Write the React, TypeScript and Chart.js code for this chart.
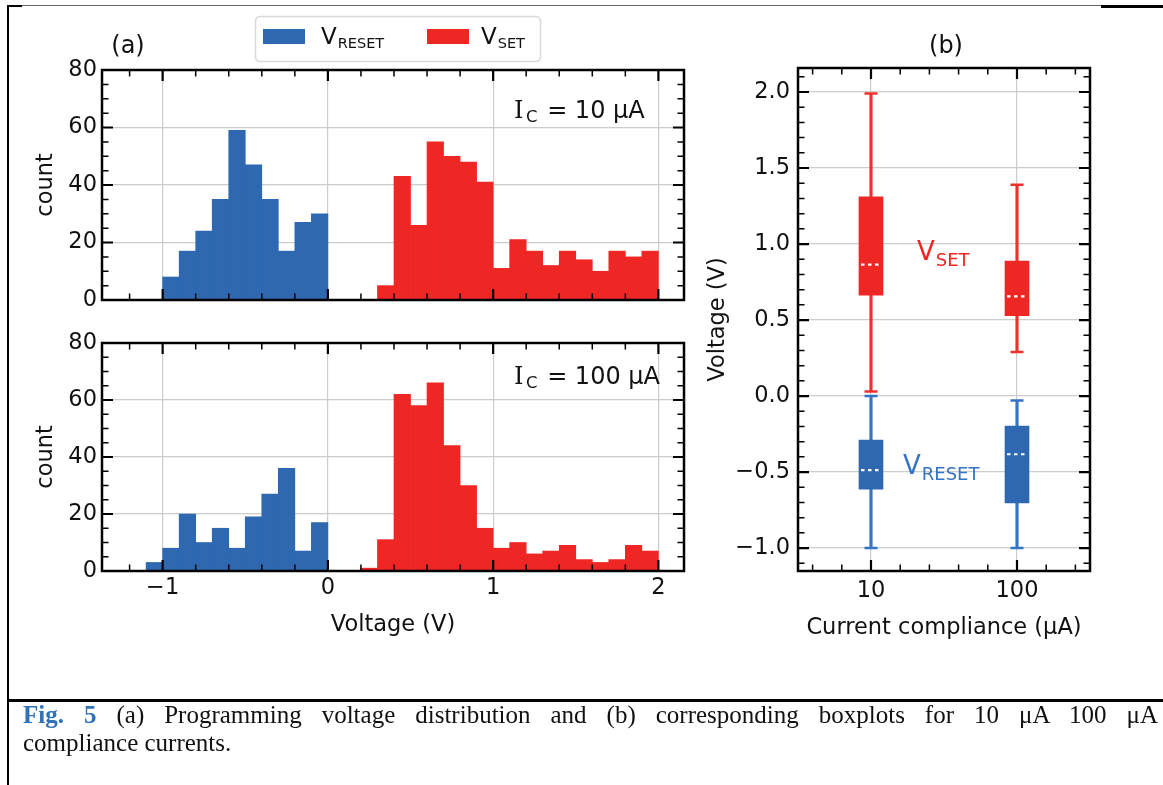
import React, { useEffect, useRef } from 'react';
import { Chart, registerables } from 'chart.js';

Chart.register(...registerables);

const W = 1163;
const H = 785;
const SANS = "'DejaVu Sans', 'Liberation Sans', sans-serif";
const SERIF = "'DejaVu Serif', 'Liberation Serif', serif";
const BLUE = '#2d68b1';
const RED = '#ee2624';
const BLUE_W = '#3574c2';
const RED_W = '#f0302c';
const GRID = '#cccccc';
const TXT = '#111111';
const FS = 22.5;

// ---------- panel (a): histograms, 0.1 V bins given by left edge ----------
const BIN_WIDTH = 0.1;
const reset10Bins = [-1.0, -0.9, -0.8, -0.7, -0.6, -0.5, -0.4, -0.3, -0.2, -0.1];
const reset10Counts = [8, 17, 24, 35, 59, 47, 35, 17, 27, 30];
const set10Bins = [0.3, 0.4, 0.5, 0.6, 0.7, 0.8, 0.9, 1.0, 1.1, 1.2, 1.3, 1.4, 1.5, 1.6, 1.7, 1.8, 1.9];
const set10Counts = [5, 43, 26, 55, 50, 48, 41, 11, 21, 17, 12, 17, 14, 10, 17, 15, 17];
const reset100Bins = [-1.1, -1.0, -0.9, -0.8, -0.7, -0.6, -0.5, -0.4, -0.3, -0.2, -0.1];
const reset100Counts = [3, 8, 20, 10, 15, 8, 19, 27, 36, 7, 17];
const set100Bins = [0.2, 0.3, 0.4, 0.5, 0.6, 0.7, 0.8, 0.9, 1.0, 1.1, 1.2, 1.3, 1.4, 1.5, 1.6, 1.7, 1.8, 1.9];
const set100Counts = [1, 11, 62, 58, 66, 44, 30, 15, 8, 10, 6, 7, 9, 4, 3, 4, 9, 7];

const histXTicks = [-1, 0, 1, 2];
const histYTicks = [0, 20, 40, 60, 80];
const histXMin = -1.367;
const histXMax = 2.155;
const histYMin = 0;
const histYMax = 80;

// ---------- panel (b): boxplots ----------
const complianceLabels = ['10', '100'];
const compliancePos = [1, 2];
const setWhisLow = [0.03, 0.29];
const setQ1 = [0.664, 0.529];
const setMedian = [0.865, 0.656];
const setQ3 = [1.31, 0.888];
const setWhisHigh = [1.99, 1.39];
const resetWhisLow = [-1.0, -1.0];
const resetQ1 = [-0.612, -0.703];
const resetMedian = [-0.487, -0.383];
const resetQ3 = [-0.289, -0.198];
const resetWhisHigh = [0.0, -0.029];
const boxYTicks = [-1, -0.5, 0, 0.5, 1, 1.5, 2];
const boxYMin = -1.151;
const boxYMax = 2.158;
const boxXMin = 0.5;
const boxXMax = 2.5;

const minus = (s: string) => s.replace('-', '\u2212');
const font = (size: number) => ({ family: SANS, size, lineHeight: 1.2 });

function minorValues(min: number, max: number, step: number, majors: number[]) {
  const out: number[] = [];
  const start = Math.ceil(min / step - 1e-9);
  const end = Math.floor(max / step + 1e-9);
  for (let i = start; i <= end; i++) {
    const v = +(i * step).toFixed(6);
    if (!majors.some((m) => Math.abs(m - v) < 1e-9)) out.push(v);
  }
  return out;
}

function makeFrame(xMajor: number[], xStep: number, yMajor: number[], yStep: number) {
  return {
    id: 'frame',
    afterDatasetsDraw(chart: any) {
      const { ctx, chartArea } = chart;
      const { left, right, top, bottom } = chartArea;
      const xs = chart.scales.x;
      const ys = chart.scales.y;
      const xMinor = minorValues(xs.min, xs.max, xStep, xMajor);
      const yMinor = minorValues(ys.min, ys.max, yStep, yMajor);
      ctx.save();
      ctx.strokeStyle = '#000';
      const vt = (vals: number[], len: number, lw: number) => {
        ctx.lineWidth = lw;
        ctx.beginPath();
        for (const v of vals) {
          const p = xs.getPixelForValue(v);
          if (p < left + 1 || p > right - 1) continue;
          ctx.moveTo(p, bottom);
          ctx.lineTo(p, bottom - len);
          ctx.moveTo(p, top);
          ctx.lineTo(p, top + len);
        }
        ctx.stroke();
      };
      const ht = (vals: number[], len: number, lw: number) => {
        ctx.lineWidth = lw;
        ctx.beginPath();
        for (const v of vals) {
          const p = ys.getPixelForValue(v);
          if (p < top + 1 || p > bottom - 1) continue;
          ctx.moveTo(left, p);
          ctx.lineTo(left + len, p);
          ctx.moveTo(right, p);
          ctx.lineTo(right - len, p);
        }
        ctx.stroke();
      };
      vt(xMajor, 11, 2.2);
      vt(xMinor, 6.5, 1.5);
      ht(yMajor, 11, 2.2);
      ht(yMinor, 6.5, 1.5);
      ctx.lineWidth = 2.5;
      ctx.strokeRect(left, top, right - left, bottom - top);
      ctx.restore();
    },
  };
}

function makeDecor(draw: (ctx: CanvasRenderingContext2D, chart: any) => void) {
  return {
    id: 'decor',
    afterDraw(chart: any) {
      const ctx = chart.ctx as CanvasRenderingContext2D;
      ctx.save();
      draw(ctx, chart);
      ctx.restore();
    },
  };
}

function drawSub(
  ctx: CanvasRenderingContext2D,
  x: number,
  y: number,
  main: string,
  sub: string,
  color: string,
  mainFont: string,
  subFont: string,
  dy: number,
  gap = 1
) {
  ctx.fillStyle = color;
  ctx.textAlign = 'left';
  ctx.textBaseline = 'alphabetic';
  ctx.font = mainFont;
  ctx.fillText(main, x, y);
  const w = ctx.measureText(main).width;
  ctx.font = subFont;
  ctx.fillText(sub, x + w + gap, y + dy);
  return x + w + gap + ctx.measureText(sub).width;
}

function drawIc(ctx: CanvasRenderingContext2D, x: number, base: number, value: string) {
  const end = drawSub(ctx, x, base, 'I', 'C', TXT, `24px ${SERIF}`, `16.5px ${SANS}`, 4, 2.5);
  ctx.font = `24px ${SANS}`;
  ctx.fillStyle = TXT;
  ctx.fillText(` = ${value}`, end + 2, base);
}

function drawPanelLabel(ctx: CanvasRenderingContext2D, text: string, x: number, y: number) {
  ctx.font = `24px ${SANS}`;
  ctx.fillStyle = TXT;
  ctx.textAlign = 'center';
  ctx.textBaseline = 'middle';
  ctx.fillText(text, x, y);
}

function drawLegend(ctx: CanvasRenderingContext2D) {
  const x = 255.5, y = 16.5, w = 285, h = 45, r = 5;
  ctx.beginPath();
  ctx.moveTo(x + r, y);
  ctx.lineTo(x + w - r, y);
  ctx.quadraticCurveTo(x + w, y, x + w, y + r);
  ctx.lineTo(x + w, y + h - r);
  ctx.quadraticCurveTo(x + w, y + h, x + w - r, y + h);
  ctx.lineTo(x + r, y + h);
  ctx.quadraticCurveTo(x, y + h, x, y + h - r);
  ctx.lineTo(x, y + r);
  ctx.quadraticCurveTo(x, y, x + r, y);
  ctx.closePath();
  ctx.fillStyle = '#ffffff';
  ctx.fill();
  ctx.strokeStyle = '#d9d9d9';
  ctx.lineWidth = 1.5;
  ctx.stroke();
  ctx.fillStyle = BLUE;
  ctx.fillRect(263, 29, 42, 15);
  ctx.fillStyle = RED;
  ctx.fillRect(427, 29, 42, 15);
  drawSub(ctx, 321, 44, 'V', 'RESET', TXT, `23px ${SANS}`, `14.5px ${SANS}`, 4);
  drawSub(ctx, 481, 44, 'V', 'SET', TXT, `23px ${SANS}`, `14.5px ${SANS}`, 4);
}

type Area = { left: number; top: number; right: number; bottom: number };

function histConfig(
  blueBins: number[],
  blueCounts: number[],
  redBins: number[],
  redCounts: number[],
  area: Area,
  showX: boolean,
  decor: (ctx: CanvasRenderingContext2D, chart: any) => void
): any {
  const xH = showX ? 67.5 : 10;
  const barDs = (bins: number[], counts: number[], color: string, label: string) => ({
    label,
    data: bins.map((b, i) => ({ x: b + BIN_WIDTH / 2, y: counts[i] })),
    backgroundColor: color,
    borderWidth: 0,
    barPercentage: 1,
    categoryPercentage: 1,
    grouped: false,
  });
  return {
    type: 'bar',
    data: {
      datasets: [
        barDs(blueBins, blueCounts, BLUE, 'V_RESET'),
        barDs(redBins, redCounts, RED, 'V_SET'),
      ],
    },
    options: {
      responsive: false,
      animation: false,
      events: [],
      layout: {
        padding: { left: 0, top: area.top, right: W - area.right, bottom: H - area.bottom - xH },
      },
      plugins: { legend: { display: false }, tooltip: { enabled: false } },
      scales: {
        x: {
          type: 'linear',
          min: histXMin,
          max: histXMax,
          offset: false,
          grid: { display: true, offset: false, color: GRID, lineWidth: 1.2, drawTicks: false },
          border: { display: false },
          afterBuildTicks: (s: any) => {
            s.ticks = histXTicks.map((v) => ({ value: v }));
          },
          ticks: {
            display: showX,
            padding: 3.5,
            autoSkip: false,
            maxRotation: 0,
            font: font(FS),
            color: TXT,
            callback: (v: number) => minus(String(v)),
          },
          title: { display: showX, text: 'Voltage (V)', font: font(FS), color: TXT, padding: { top: 0, bottom: 0 } },
          afterFit: (s: any) => {
            s.height = xH;
          },
        },
        y: {
          type: 'linear',
          min: histYMin,
          max: histYMax,
          grid: { display: true, color: GRID, lineWidth: 1.2, drawTicks: false },
          border: { display: false },
          afterBuildTicks: (s: any) => {
            s.ticks = histYTicks.map((v) => ({ value: v }));
          },
          ticks: { padding: 5, font: font(FS), color: TXT, callback: (v: number) => String(v) },
          title: { display: true, text: 'count', font: font(FS), color: TXT, padding: { top: 32.5, bottom: 0 } },
          afterFit: (s: any) => {
            s.width = area.left;
          },
        },
      },
    },
    plugins: [makeFrame(histXTicks, 0.2, histYTicks, 5), makeDecor(decor)],
  };
}

function boxConfig(): any {
  const area: Area = { left: 798, top: 68, right: 1090, bottom: 571 };
  const xH = 70.5;
  const padLeft = 700;
  const floatDs = (lo: number[], hi: number[], color: string, thickness: number, order: number, label: string) => ({
    label,
    data: compliancePos.map((x, i) => ({ x, y: [lo[i], hi[i]] })),
    backgroundColor: color,
    borderWidth: 0,
    barThickness: thickness,
    grouped: false,
    order,
  });
  const marks = {
    id: 'boxMarks',
    afterDatasetsDraw(chart: any) {
      const { ctx } = chart;
      const xs = chart.scales.x;
      const ys = chart.scales.y;
      ctx.save();
      const cap = (vals: number[], color: string) => {
        ctx.strokeStyle = color;
        ctx.lineWidth = 2.5;
        ctx.setLineDash([]);
        ctx.beginPath();
        compliancePos.forEach((p, i) => {
          const x = xs.getPixelForValue(p);
          const y = ys.getPixelForValue(vals[i]);
          ctx.moveTo(x - 6.5, y);
          ctx.lineTo(x + 6.5, y);
        });
        ctx.stroke();
      };
      cap(setWhisLow, RED_W);
      cap(setWhisHigh, RED_W);
      cap(resetWhisLow, BLUE_W);
      cap(resetWhisHigh, BLUE_W);
      const med = (vals: number[]) => {
        ctx.strokeStyle = '#ffffff';
        ctx.lineWidth = 2.2;
        ctx.setLineDash([3.5, 3.5]);
        ctx.beginPath();
        compliancePos.forEach((p, i) => {
          const x = xs.getPixelForValue(p);
          const y = ys.getPixelForValue(vals[i]);
          ctx.moveTo(x - 10, y);
          ctx.lineTo(x + 8.5, y);
        });
        ctx.stroke();
      };
      med(setMedian);
      med(resetMedian);
      ctx.restore();
    },
  };
  return {
    type: 'bar',
    data: {
      datasets: [
        floatDs(setQ1, setQ3, RED, 24, 0, 'V_SET box'),
        floatDs(resetQ1, resetQ3, BLUE, 24, 0, 'V_RESET box'),
        floatDs(setWhisLow, setQ1, RED_W, 2.5, 1, 'V_SET lower whisker'),
        floatDs(setQ3, setWhisHigh, RED_W, 2.5, 1, 'V_SET upper whisker'),
        floatDs(resetWhisLow, resetQ1, BLUE_W, 2.5, 1, 'V_RESET lower whisker'),
        floatDs(resetQ3, resetWhisHigh, BLUE_W, 2.5, 1, 'V_RESET upper whisker'),
      ],
    },
    options: {
      responsive: false,
      animation: false,
      events: [],
      layout: {
        padding: { left: padLeft, top: area.top, right: W - area.right, bottom: H - area.bottom - xH },
      },
      plugins: { legend: { display: false }, tooltip: { enabled: false } },
      scales: {
        x: {
          type: 'linear',
          min: boxXMin,
          max: boxXMax,
          offset: false,
          grid: { display: true, offset: false, color: GRID, lineWidth: 1.2, drawTicks: false },
          border: { display: false },
          afterBuildTicks: (s: any) => {
            s.ticks = compliancePos.map((v) => ({ value: v }));
          },
          ticks: {
            padding: 6.5,
            autoSkip: false,
            maxRotation: 0,
            font: font(FS),
            color: TXT,
            callback: (_v: number, i: number) => complianceLabels[i],
          },
          title: {
            display: true,
            text: 'Current compliance (μA)',
            font: font(FS),
            color: TXT,
            padding: { top: 0, bottom: 0 },
          },
          afterFit: (s: any) => {
            s.height = xH;
          },
        },
        y: {
          type: 'linear',
          min: boxYMin,
          max: boxYMax,
          beginAtZero: false,
          grid: { display: true, color: GRID, lineWidth: 1.2, drawTicks: false },
          border: { display: false },
          afterBuildTicks: (s: any) => {
            s.ticks = boxYTicks.map((v) => ({ value: v }));
          },
          ticks: { padding: 8, font: font(FS), color: TXT, callback: (v: number) => minus(v.toFixed(1)) },
          title: { display: true, text: 'Voltage (V)', font: font(FS), color: TXT, padding: { top: 4.5, bottom: 0 } },
          afterFit: (s: any) => {
            s.width = area.left - padLeft;
          },
        },
      },
    },
    plugins: [
      marks,
      makeFrame(compliancePos, 0.2, boxYTicks, 0.1),
      makeDecor((ctx) => {
        drawPanelLabel(ctx, '(b)', 946, 47);
        drawSub(ctx, 917, 260, 'V', 'SET', RED, `26px ${SANS}`, `18px ${SANS}`, 6);
        drawSub(ctx, 903, 474, 'V', 'RESET', BLUE_W, `26px ${SANS}`, `18px ${SANS}`, 6);
      }),
    ],
  };
}

export default function App() {
  const c1 = useRef<HTMLCanvasElement>(null);
  const c2 = useRef<HTMLCanvasElement>(null);
  const c3 = useRef<HTMLCanvasElement>(null);

  useEffect(() => {
    const charts: Chart[] = [];
    charts.push(
      new Chart(
        c1.current as HTMLCanvasElement,
        histConfig(
          reset10Bins,
          reset10Counts,
          set10Bins,
          set10Counts,
          { left: 102, top: 70, right: 684, bottom: 300 },
          false,
          (ctx) => {
            drawPanelLabel(ctx, '(a)', 128, 47);
            drawLegend(ctx);
            drawIc(ctx, 514, 118, '10 μA');
          }
        )
      )
    );
    charts.push(
      new Chart(
        c2.current as HTMLCanvasElement,
        histConfig(
          reset100Bins,
          reset100Counts,
          set100Bins,
          set100Counts,
          { left: 102, top: 343, right: 684, bottom: 571 },
          true,
          (ctx) => {
            drawIc(ctx, 514, 384, '100 μA');
          }
        )
      )
    );
    charts.push(new Chart(c3.current as HTMLCanvasElement, boxConfig()));
    return () => charts.forEach((c) => c.destroy());
  }, []);

  const canvasStyle: React.CSSProperties = { position: 'absolute', left: 0, top: 0, width: W, height: H };
  const line = (l: number, t: number, w: number, h: number, bg: string): React.CSSProperties => ({
    position: 'absolute',
    left: l,
    top: t,
    width: w,
    height: h,
    background: bg,
  });

  return (
    <div style={{ position: 'absolute', left: 0, top: 0, width: W, height: H, background: '#fff', overflow: 'hidden' }}>
      <div style={line(7, 5, 15, 2, '#000')} />
      <div style={line(22, 5, 1080, 1, '#666')} />
      <div style={line(1101, 5, 62, 2.5, '#000')} />
      <div style={line(7, 5, 2, 780, '#000')} />
      <div style={line(7, 699, 1156, 2.5, '#000')} />
      <canvas ref={c1} width={W} height={H} style={canvasStyle} />
      <canvas ref={c2} width={W} height={H} style={canvasStyle} />
      <canvas ref={c3} width={W} height={H} style={canvasStyle} />
      <div
        style={{
          position: 'absolute',
          left: 23,
          top: 701,
          width: 1135,
          fontFamily: "'Liberation Serif', 'Times New Roman', serif",
          fontSize: 25,
          lineHeight: '28px',
          color: '#111',
        }}
      >
        <div style={{ textAlign: 'justify', textAlignLast: 'justify' }}>
          <span style={{ color: '#2f72b7', fontWeight: 'bold' }}>Fig. 5</span> (a) Programming voltage distribution and (b)
          corresponding boxplots for 10 μA 100 μA
        </div>
        <div>compliance currents.</div>
      </div>
    </div>
  );
}
